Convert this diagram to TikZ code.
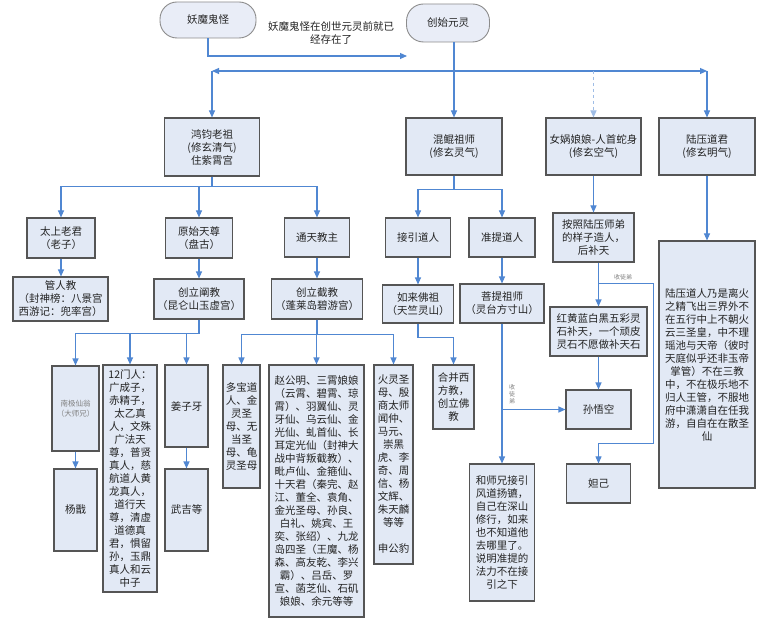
\documentclass[tikz,border=0pt]{standalone}
\usepackage{fontspec}
\setmainfont{Noto Sans CJK SC}
\usetikzlibrary{arrows.meta}
\definecolor{arrowblue}{RGB}{80,135,210}
\definecolor{boxfill}{RGB}{226,233,245}
\definecolor{boxline}{RGB}{85,85,85}
\definecolor{termfill}{RGB}{233,237,247}
\definecolor{termline}{RGB}{140,140,140}
\definecolor{txt}{RGB}{35,35,35}
\begin{document}
\begin{tikzpicture}[x=1pt,y=-1pt,
  box/.style={draw=boxline, fill=boxfill, line width=1.1pt, inner sep=0pt, align=center, text=txt, font=\fontsize{10.5}{13}\selectfont},
  term/.style={draw=termline, fill=termfill, line width=0.9pt, rounded corners=17pt, inner sep=0pt, align=center, text=txt, font=\fontsize{10.5}{13}\selectfont},
  sz/.style 2 args={minimum width=#1pt, minimum height=#2pt},
  arr/.style={draw=arrowblue, line width=1.1pt, -{Triangle[length=7pt,width=6pt]}},
  link/.style={draw=arrowblue, line width=1.1pt},
  small/.style={font=\fontsize{6}{7}\selectfont, text=gray, inner sep=0pt, align=center}
]
\fill[white] (0,0) rectangle (770,620);
\useasboundingbox (0,0) rectangle (770,620);

% top
\node[term, sz={96}{36}] (yaomo) at (208,20) {妖魔鬼怪};
\node[term, sz={83}{38}] (chuangshi) at (448,23) {创始元灵};
\node[align=center, text=txt, inner sep=0pt, font=\fontsize{10.5}{13}\selectfont] (note) at (331,33) {妖魔鬼怪在创世元灵前就已\\经存在了};

% level 1
\node[box, sz={95}{58}] (hongjun) at (212,147) {鸿钧老祖\\(修玄清气)\\住紫霄宫};
\node[box, sz={96}{57}] (hunkun) at (454,146.5) {混鲲祖师\\(修玄灵气)};
\node[box, sz={95}{57}] (nvwa) at (593.5,146.5) {女娲娘娘-人首蛇身\\(修玄空气)};
\node[box, sz={96}{57}] (luya) at (707,146.5) {陆压道君\\(修玄明气)};

% level 2
\node[box, sz={68}{40}] (taishang) at (61,238) {太上老君\\（老子）};
\node[box, sz={67}{40}] (yuanshi) at (199,238) {原始天尊\\（盘古）};
\node[box, sz={65}{39}] (tongtian) at (317,237.5) {通天教主};
\node[box, sz={65}{39}] (jieyin) at (418,237.5) {接引道人};
\node[box, sz={66}{39}] (zhunti) at (502,237.5) {准提道人};
\node[box, sz={81}{49}] (anzhao) at (593.5,237.5) {按照陆压师弟\\的样子造人，\\后补天};
\node[box, sz={96}{247}] (luyatext) at (707,364.5) {陆压道人乃是离火\\之精飞出三界外不\\在五行中上不朝火\\云三圣皇，中不理\\瑶池与天帝（彼时\\天庭似乎还非玉帝\\掌管）不在三教\\中，不在极乐地不\\归人王管，不服地\\府中潇潇自在任我\\游，自自在在散圣\\仙};

% level 3
\node[box, sz={95}{44}] (guanren) at (60.5,299) {管人教\\（封神榜：八景宫\\西游记：兜率宫）};
\node[box, sz={90}{40}] (chanjiao) at (199,299) {创立阐教\\（昆仑山玉虚宫）};
\node[box, sz={91}{40}] (jiejiao) at (317,299) {创立截教\\（蓬莱岛碧游宫）};
\node[box, sz={71}{38}] (rulai) at (418,304) {如来佛祖\\（天竺灵山）};
\node[box, sz={84}{39}] (puti) at (502,303.5) {菩提祖师\\（灵台方寸山）};
\node[box, sz={97}{49}] (hongdong) at (598.5,331.5) {红黄蓝白黑五彩灵\\石补天，一个顽皮\\灵石不愿做补天石};

% level 4
\node[box, sz={47}{85}, font=\fontsize{7.5}{10}\selectfont, text=gray] (nanji) at (75.5,408.5) {南极仙翁\\（大师兄）};
\node[box, sz={54}{227}] (menren) at (130,478.5) {12门人：\\广成子，\\赤精子，\\太乙真\\人，文殊\\广法天\\尊，普贤\\真人，慈\\航道人黄\\龙真人，\\道行天\\尊，清虚\\道德真\\君，惧留\\孙，玉鼎\\真人和云\\中子};
\node[box, sz={43}{82}] (jiangziya) at (186.5,406) {姜子牙};
\node[box, sz={43}{82}] (yangjian) at (75.5,510) {杨戬};
\node[box, sz={43}{82}] (wuji) at (186.5,510) {武吉等};
\node[box, sz={37}{123}] (duobao) at (241.5,426.5) {多宝道\\人、金\\灵圣\\母、无\\当圣\\母、龟\\灵圣母};
\node[box, sz={95}{252}] (zhao) at (316.5,491) {赵公明、三霄娘娘\\（云霄、碧霄、琼\\霄）、羽翼仙、灵\\牙仙、乌云仙、金\\光仙、虬首仙、长\\耳定光仙（封神大\\战中背叛截教）、\\毗卢仙、金箍仙、\\十天君（秦完、赵\\江、董全、袁角、\\金光圣母、孙良、\\白礼、姚宾、王\\奕、张绍）、九龙\\岛四圣（王魔、杨\\森、高友乾、李兴\\霸）、吕岳、罗\\宣、菡芝仙、石矶\\娘娘、余元等等};
\node[box, sz={39}{199}] (huoling) at (393.5,464.5) {火灵圣\\母、殷\\商太师\\闻仲、\\马元、\\崇黑\\虎、李\\奇、周\\信、杨\\文辉、\\朱天麟\\等等\\[13pt]申公豹};
\node[box, sz={41}{64}] (hebing) at (453.5,397) {合并西\\方教，\\创立佛\\教};
\node[box, sz={65}{137}] (heshixiong) at (502,532.5) {和师兄接引\\风道扬镳，\\自己在深山\\修行，如来\\也不知道他\\去哪里了。\\说明准提的\\法力不在接\\引之下};
\node[box, sz={65}{39}] (sunwukong) at (598.5,409.5) {孙悟空};
\node[box, sz={64}{39}] (daji) at (598.5,483.5) {妲己};

% small labels
\node[small] (shoutu1) at (512,394) {收\\徒\\弟};
\node[small] (shoutu2) at (623,277) {收徒弟};

% top connectors
\coordinate (ya) at (407,56);
\draw[arr] (yaomo.south) |- (ya);
\draw[arr] (chuangshi.south -| hunkun.north) -- (hunkun.north);
\coordinate (tl) at (212,71);
\coordinate (tr) at (707,71);
\coordinate (tm) at (593.5,71);
\draw[link, {Triangle[length=7pt,width=6pt]}-{Triangle[length=7pt,width=6pt]}] (tl) -- (tr);
\draw[arr] (tl) -- (hongjun.north);
\draw[arr] (tr) -- (luya.north);
\draw[arr, draw=arrowblue!55, dashed] (tm) -- (nvwa.north);

% hongjun branch
\draw[arr] (hongjun.south) -- ++(0,10) -| (taishang.north);
\draw[arr] (hongjun.south) -- ++(0,10) -| (yuanshi.north);
\draw[arr] (hongjun.south) -- ++(0,10) -| (tongtian.north);
\draw[arr] (taishang.south) -- (taishang.south |- guanren.north);
\draw[arr] (yuanshi.south) -- (yuanshi.south |- chanjiao.north);
\draw[arr] (tongtian.south) -- (tongtian.south |- jiejiao.north);

% chanjiao branch
\draw[arr] (chanjiao.south) -- ++(0,14) -| (nanji.north);
\draw[arr] (chanjiao.south) -- ++(0,14) -| (menren.north);
\draw[arr] (chanjiao.south) -- ++(0,14) -| (jiangziya.north);
\draw[arr] (nanji.south) -- (nanji.south |- yangjian.north);
\draw[arr] (jiangziya.south) -- (jiangziya.south |- wuji.north);

% jiejiao branch
\draw[arr] (jiejiao.south) -- ++(0,15) -| (duobao.north);
\draw[arr] (jiejiao.south) -- ++(0,15) -| (zhao.north);
\draw[arr] (jiejiao.south) -- ++(0,15) -| (huoling.north);

% hunkun branch
\draw[arr] (hunkun.south) -- ++(0,14) -| (jieyin.north);
\draw[arr] (hunkun.south) -- ++(0,14) -| (zhunti.north);
\draw[arr] (jieyin.south) -- (jieyin.south |- rulai.north);
\draw[arr] (zhunti.south) -- (zhunti.south |- puti.north);
\draw[arr] (rulai.south) -- ++(0,14) -| (hebing.north);
\draw[arr] (puti.south) -- (puti.south |- heshixiong.north);
\draw[arr] (puti.south |- sunwukong.west) -- (sunwukong.west);

% nvwa branch
\draw[arr] (nvwa.south) -- (nvwa.south |- anzhao.north);
\draw[arr] (anzhao.south -| hongdong.north) -- (hongdong.north);
\draw[arr] (hongdong.south) -- (sunwukong.north);
\coordinate (k1) at (598.5,283);
\coordinate (k2) at (653,443);
\draw[arr, line width=0.8pt] (k1) -| (k2) -| (daji.north);

% luya
\draw[arr] (luya.south) -- (luyatext.north);
\end{tikzpicture}
\end{document}
